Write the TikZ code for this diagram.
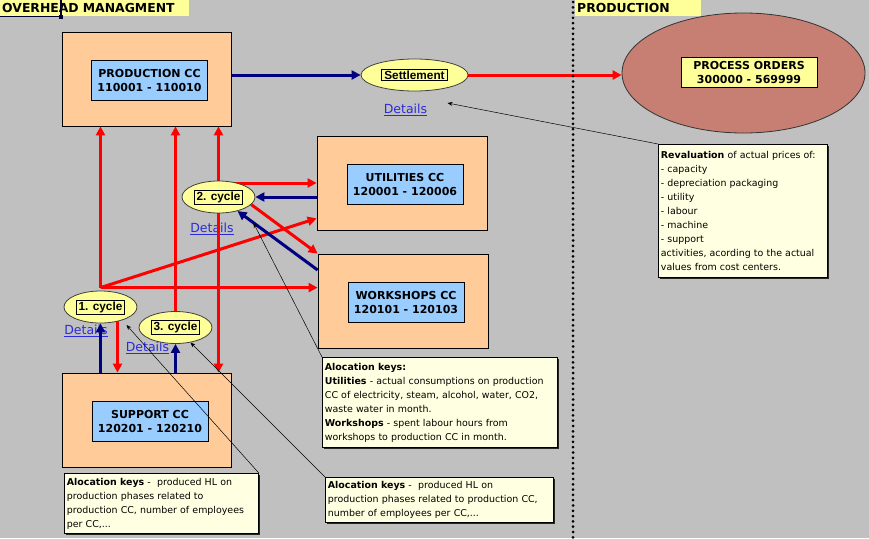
\documentclass[tikz,border=0pt]{standalone}
\usepackage{fontspec}
\setmainfont{DejaVu Sans}
\newfontfamily\arialfont{Liberation Sans}
\usetikzlibrary{arrows.meta,positioning,calc,shapes.geometric,shadows}
\pgfdeclarelayer{sheet}
\pgfdeclarelayer{bg}
\pgfsetlayers{sheet,bg,main}
\definecolor{cellgray}{HTML}{C0C0C0}
\definecolor{peach}{HTML}{FFCC99}
\definecolor{paleblue}{HTML}{99CCFF}
\definecolor{paleyellow}{HTML}{FFFF99}
\definecolor{notefill}{HTML}{FFFFE1}
\definecolor{navyline}{HTML}{000080}
\definecolor{orderfill}{HTML}{C67F72}
\definecolor{linkblue}{HTML}{2B2BDD}

\begin{document}
\begin{tikzpicture}[x=1pt,y=-1pt,
 ccbox/.style={draw,fill=peach,line width=0.8pt,minimum width=169pt,minimum height=94pt,inner sep=0pt},
 cclabel/.style={draw,fill=paleblue,line width=0.8pt,minimum width=116pt,minimum height=40pt,inner sep=0pt,align=center,font=\fontsize{11}{14}\selectfont\bfseries},
 cyc/.style={ellipse,draw=black!75,fill=paleyellow,line width=0.8pt,minimum width=73pt,minimum height=32pt,inner sep=0pt},
 tag/.style={draw,fill=paleyellow,line width=0.8pt,inner xsep=2.5pt,inner ysep=1.5pt,font=\arialfont\fontsize{11.8}{13}\selectfont\bfseries},
 details/.style={text=linkblue,font=\fontsize{12.5}{14}\selectfont,inner sep=0pt},
 note/.style={draw,fill=notefill,line width=0.8pt,anchor=north west,align=left,inner xsep=2.5pt,inner ysep=2pt,font=\fontsize{9.45}{14}\selectfont,drop shadow={shadow xshift=2pt,shadow yshift=-2pt,opacity=1,fill=black!85}},
 flow/.style={red,line width=3pt,-{Triangle[length=9pt,width=9pt]}},
 backflow/.style={navyline,line width=3pt,-{Triangle[length=9pt,width=9pt]}},
 pointer/.style={black,line width=0.5pt,-{Stealth[length=5pt,width=4pt]}},
 header/.style={fill=paleyellow,anchor=north west,inner xsep=2pt,inner ysep=0pt,minimum height=16pt,align=left,font=\fontsize{12.4}{14}\selectfont\bfseries}]
 \begin{pgfonlayer}{sheet}
 \fill[cellgray] (0,0) rectangle (869,538);
 \end{pgfonlayer}
 \useasboundingbox (0,0) rectangle (869,538);
 % sheet headers
 \node[header,text width=185pt] (ovh) at (0,0) {OVERHEAD MANAGMENT};
 \node[header,text width=122pt] (prodh) at (575,0) {PRODUCTION};
 \draw[line width=1.5pt,black!80!blue] (0,16.5) -- (61,16.5) -- (61,0);
 \fill[black!80!blue] (59,14.5) rectangle (63,18.5);
 \draw[line width=3pt,line cap=round,dash pattern=on 0pt off 5.3pt] (573,2) -- (573,538);
 % cost centers
 \node[ccbox] (prodcc) at (146.5,79) {};
 \node[cclabel] (prodlbl) at (149.5,80) {PRODUCTION CC\\110001 - 110010};
 \node[ccbox,minimum width=170pt] (utilcc) at (402,183) {};
 \node[cclabel] (utillbl) at (405,184) {UTILITIES CC\\120001 - 120006};
 \node[ccbox,minimum width=170pt] (workcc) at (403,301) {};
 \node[cclabel] (worklbl) at (406,302) {WORKSHOPS CC\\120101 - 120103};
 \node[ccbox] (suppcc) at (146.5,420) {};
 \node[cclabel] (supplbl) at (150,421.5) {SUPPORT CC\\120201 - 120210};
 % settlement and orders
 \node[cyc,minimum width=107pt] (settl) at (414.5,75) {};
 \node[tag] (settltag) at (settl) {Settlement};
 \node[ellipse,draw=black!80,line width=0.8pt,fill=orderfill,minimum width=243pt,minimum height=120pt] (porders) at (743.5,73) {};
 \node[cclabel,fill=paleyellow,minimum width=136pt,minimum height=30pt] (porderlbl) at (749,72) {PROCESS ORDERS\\300000 - 569999};
 % cycles
 \node[cyc] (cyc1) at (100.5,307) {};
 \node[tag] (cyc1tag) at (cyc1) {1. cycle};
 \node[cyc] (cyc2) at (218.5,197) {};
 \node[tag] (cyc2tag) at (cyc2) {2. cycle};
 \node[cyc] (cyc3) at (175.5,327.5) {};
 \node[tag] (cyc3tag) at (cyc3) {3. cycle};
 \begin{pgfonlayer}{bg}
 \node[details] (det0) at (405.5,110) {\underline{Details}};
 \node[details] (det1) at (86,331) {\underline{Details}};
 \node[details] (det2) at (212,229) {\underline{Details}};
 \node[details] (det3) at (147.5,348) {\underline{Details}};
 \coordinate (hub) at ([yshift=3pt]cyc1.north);
 \draw[flow] (hub) -- (hub |- prodcc.south);
 \draw[flow] (hub) -- (hub -| workcc.west);
 \draw[flow] (hub) -- ([yshift=12pt]utilcc.south west);
 \draw[flow] (cyc3.north) -- (cyc3.north |- prodcc.south);
 \draw[flow] (cyc2.center) -- (cyc2.center |- prodcc.south);
 \draw[flow] (cyc2.center) -- (cyc2.center |- suppcc.north);
 \draw[flow] ([yshift=14pt]cyc2.center) -- ([yshift=14pt]cyc2.center -| utilcc.west);
 \draw[flow] (cyc2.-13) -- (workcc.north west);
 \draw[flow] ([xshift=17pt]cyc1.center) -- ([xshift=17pt]cyc1.center |- suppcc.north);
 \draw[backflow] (utilcc.west |- cyc2) -- (cyc2);
 \draw[backflow] ([yshift=31pt]workcc.west) -- (cyc2);
 \draw[backflow] (cyc1.south |- suppcc.north) -- (cyc1.south);
 \draw[backflow] (cyc3.south |- suppcc.north) -- (cyc3.south);
 \draw[backflow] (prodcc.east |- settl) -- (settl);
 \draw[flow] (settl) -- (settl -| porders.west);
 \end{pgfonlayer}
 % notes
 \node[note,text width=164pt,minimum height=133pt] (reval) at (658,144)
 {\textbf{Revaluation} of actual prices of:\\- capacity\\- depreciation packaging\\- utility\\- labour\\- machine\\- support\\activities, acording to the actual\\values from cost centers.};
 \node[note,text width=230pt,minimum height=90pt] (alloc) at (322,357)
 {\textbf{Alocation keys:}\\\textbf{Utilities} - actual consumptions on production\\CC of electricity, steam, alcohol, water, CO2,\\waste water in month.\\\textbf{Workshops} - spent labour hours from\\workshops to production CC in month.};
 \node[note,text width=223pt,minimum height=45pt] (allocb) at (325,477)
 {\textbf{Alocation keys} -\ \ produced HL on\\production phases related to production CC,\\number of employees per CC,...};
 \node[note,text width=189pt,minimum height=60pt] (allocs) at (64,473)
 {\textbf{Alocation keys} -\ \ produced HL on\\production phases related to\\production CC, number of employees\\per CC,...};
 \draw[pointer] (reval.north west) -- ($(settl)+(33,28)$);
 \draw[pointer] (alloc.north west) -- ($(cyc2)+(35,26)$);
 \draw[pointer] (allocb.north west) -- ($(cyc3)+(15,15)$);
 \draw[pointer] (allocs.north east) -- ($(cyc1)+(26,18)$);
\end{tikzpicture}
\end{document}
